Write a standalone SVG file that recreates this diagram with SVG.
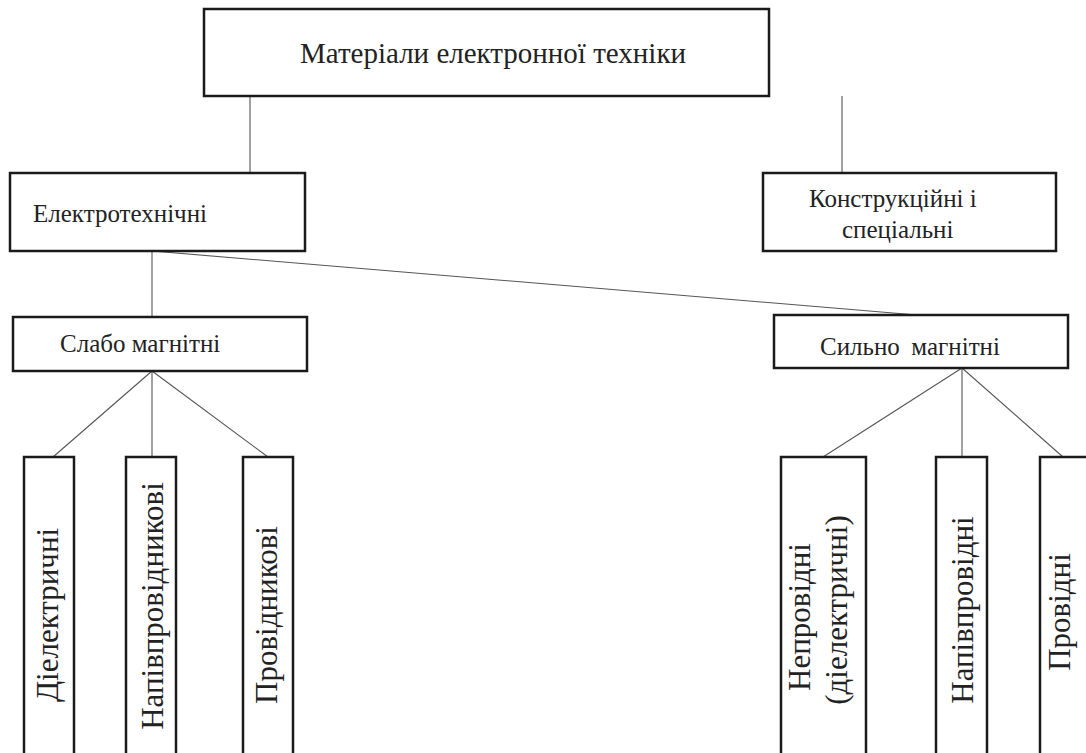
<svg xmlns="http://www.w3.org/2000/svg" width="1086" height="753" viewBox="0 0 1086 753" xml:lang="uk" lang="uk">
<style>
.box{fill:#fff;stroke:#1a1a1a;stroke-width:2.5}
.con{stroke:#555;stroke-width:1.1;fill:none}
</style>
<rect width="1086" height="753" fill="#fff"/>
<g id="connectors">
<line class="con" x1="250" y1="96" x2="250" y2="173"/>
<line class="con" x1="842" y1="96" x2="842" y2="173"/>
<line class="con" x1="152" y1="251" x2="152" y2="317"/>
<line class="con" x1="152" y1="251" x2="917" y2="315"/>
<line class="con" x1="152" y1="371" x2="53" y2="457"/>
<line class="con" x1="152" y1="371" x2="152" y2="457"/>
<line class="con" x1="152" y1="371" x2="268" y2="457"/>
<line class="con" x1="962" y1="368" x2="823" y2="457"/>
<line class="con" x1="962" y1="368" x2="962" y2="457"/>
<line class="con" x1="962" y1="368" x2="1063" y2="457"/>
</g>
<g id="n-root">
<rect class="box" x="204" y="9" width="565" height="87"/>
<text x="300" y="63" font-size="29" font-family="Liberation Serif" fill="#222">Матеріали електронної техніки</text>
</g>
<g id="n-electro">
<rect class="box" x="10" y="173" width="295" height="78"/>
<text x="33" y="222" font-size="25" font-family="Liberation Serif" fill="#222">Електротехнічні</text>
</g>
<g id="n-konstr">
<rect class="box" x="763" y="173" width="293" height="78"/>
<text x="809" y="207" font-size="25" font-family="Liberation Serif" fill="#222">Конструкційні і</text>
<text x="842" y="238" font-size="25" font-family="Liberation Serif" fill="#222">спеціальні</text>
</g>
<g id="n-slabo">
<rect class="box" x="13" y="317" width="294" height="54"/>
<text x="60" y="352" font-size="25" font-family="Liberation Serif" fill="#222">Слабо магнітні</text>
</g>
<g id="n-sylno">
<rect class="box" x="774" y="315" width="294" height="53"/>
<text x="820" y="355" font-size="25" font-family="Liberation Serif" fill="#222">Сильно<tspan dx="12">магнітні</tspan></text>
</g>
<g id="n-diel">
<rect class="box" x="24" y="457" width="50" height="310"/>
<text x="58" y="615" transform="rotate(-90 58 615)" font-size="31" text-anchor="middle" font-family="Liberation Serif" fill="#222">Діелектричні</text>
</g>
<g id="n-napiv1">
<rect class="box" x="126" y="457" width="50" height="310"/>
<text x="163" y="606" transform="rotate(-90 163 606)" font-size="31" text-anchor="middle" font-family="Liberation Serif" fill="#222">Напівпровідникові</text>
</g>
<g id="n-provid1">
<rect class="box" x="243" y="457" width="50" height="310"/>
<text x="277" y="615" transform="rotate(-90 277 615)" font-size="31" text-anchor="middle" font-family="Liberation Serif" fill="#222">Провідникові</text>
</g>
<g id="n-neprov">
<rect class="box" x="781" y="457" width="85" height="310"/>
<text x="810" y="617" transform="rotate(-90 810 617)" font-size="31" text-anchor="middle" font-family="Liberation Serif" fill="#222">Непровідні</text>
<text x="847" y="610" transform="rotate(-90 847 610)" font-size="31" text-anchor="middle" font-family="Liberation Serif" fill="#222">(діелектричні)</text>
</g>
<g id="n-napiv2">
<rect class="box" x="936" y="457" width="51" height="310"/>
<text x="973" y="610" transform="rotate(-90 973 610)" font-size="31" text-anchor="middle" font-family="Liberation Serif" fill="#222">Напівпровідні</text>
</g>
<g id="n-provid2">
<rect class="box" x="1040" y="457" width="60" height="310"/>
<text x="1070" y="612" transform="rotate(-90 1070 612)" font-size="31" text-anchor="middle" font-family="Liberation Serif" fill="#222">Провідні</text>
</g>
</svg>
